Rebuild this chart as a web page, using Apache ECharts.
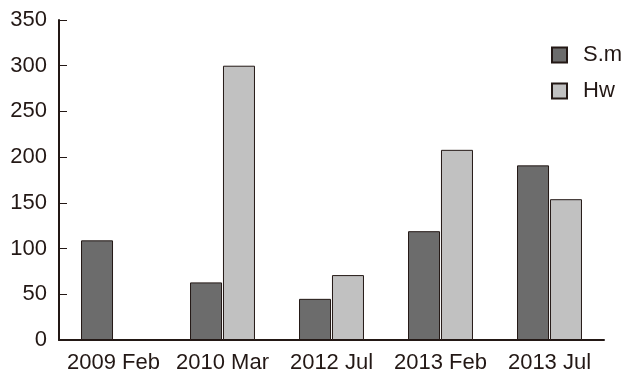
<!DOCTYPE html>
<html><head><meta charset="utf-8">
<script src="https://cdn.jsdelivr.net/npm/echarts@6/dist/echarts.min.js"></script>
<style>html,body{margin:0;padding:0;background:#fff}#c{width:628px;height:384px}</style>
</head><body><div id="c"></div>
<script>
const categories = ['2009 Feb', '2010 Mar', '2012 Jul', '2013 Feb', '2013 Jul'];
const smValues = [109, 63, 45, 119, 191];
const hwValues = [0, 300, 71, 208, 154];
const seriesNames = ['S.m', 'Hw'];

const axisColor = '#231815';
const font = 'Liberation Sans, Arial, sans-serif';
const chart = echarts.init(document.getElementById('c'), null, {renderer: 'canvas'});
chart.setOption({
  animation: false,
  backgroundColor: '#fff',
  grid: {left: 59, right: 24, top: 20, bottom: 44, containLabel: false},
  legend: {
    orient: 'vertical', left: 551, top: 44, padding: 0, itemWidth: 15, itemHeight: 15, itemGap: 14,
    icon: 'rect',
    textStyle: {fontFamily: font, fontSize: 22, lineHeight: 22, color: axisColor, padding: [0, 0, 0, 11]},
    data: seriesNames
  },
  xAxis: {
    type: 'category', data: categories,
    axisLine: {lineStyle: {color: axisColor, width: 2}},
    axisTick: {inside: true, length: 10, lineStyle: {color: axisColor, width: 1}},
    axisLabel: {interval: 0, fontFamily: font, fontSize: 22, color: axisColor, margin: 12}
  },
  yAxis: {
    type: 'value', min: 0, max: 350, interval: 50,
    axisLine: {show: true, lineStyle: {color: axisColor, width: 2}},
    axisTick: {show: true, inside: true, length: 8, lineStyle: {color: axisColor, width: 1}},
    axisLabel: {fontFamily: font, fontSize: 22, color: axisColor, margin: 12},
    splitLine: {show: false}
  },
  series: [
    {name: seriesNames[0], type: 'bar', data: smValues, barWidth: 32, barGap: '3%',
     itemStyle: {color: '#6c6c6c', borderColor: axisColor, borderWidth: 1}},
    {name: seriesNames[1], type: 'bar', data: hwValues, barWidth: 32,
     itemStyle: {color: '#c1c1c1', borderColor: axisColor, borderWidth: 1}}
  ]
});
</script></body></html>
